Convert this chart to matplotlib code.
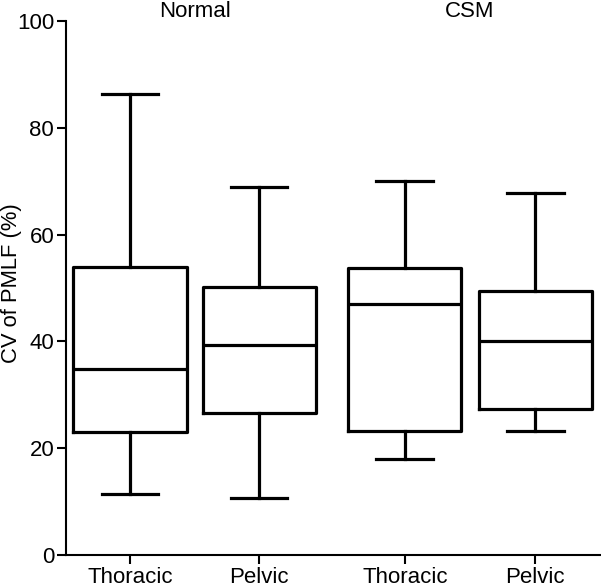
import matplotlib
matplotlib.use('Agg')
from matplotlib import pyplot as plt

plt.rcParams['font.family'] = ['Liberation Sans', 'DejaVu Sans']

labels = ['Thoracic', 'Pelvic', 'Thoracic', 'Pelvic']
groups = ['Normal', 'CSM']
whislo = [11.4, 10.7, 18.0, 23.2]
q1 = [23.0, 26.6, 23.2, 27.3]
med = [34.8, 39.3, 47.0, 40.1]
q3 = [53.9, 50.2, 53.7, 49.4]
whishi = [86.4, 68.9, 70.0, 67.8]

positions = [1.0, 2.0, 3.13, 4.14]

stats = []
for i in range(len(labels)):
    stats.append(dict(whislo=whislo[i], q1=q1[i], med=med[i], q3=q3[i],
                      whishi=whishi[i], label=labels[i]))

fig = plt.figure(figsize=(6.01, 5.87), dpi=100)
ax = fig.add_axes([0.1098, 0.0545, 0.8902, 0.9097])

lw = 2.3
ax.bxp(stats, positions=positions, widths=0.876, showfliers=False,
       boxprops=dict(color='black', linewidth=lw),
       medianprops=dict(color='black', linewidth=lw),
       whiskerprops=dict(color='black', linewidth=lw),
       capprops=dict(color='black', linewidth=lw),
       capwidths=0.44)

ax.set_xlim(0.504, 4.65)
ax.set_ylim(0, 100)
ax.set_yticks([0, 20, 40, 60, 80, 100])
ax.set_ylabel('CV of PMLF (%)', fontsize=15.8)
ax.yaxis.set_label_coords(-0.083, 0.51)
ax.spines['top'].set_visible(False)
ax.spines['right'].set_visible(False)
ax.spines['left'].set_linewidth(1.5)
ax.spines['bottom'].set_linewidth(1.5)
ax.tick_params(axis='both', labelsize=16, width=1.5, length=6.5, pad=2)

for g, x in zip(groups, [(positions[0] + positions[1]) / 2,
                         (positions[2] + positions[3]) / 2]):
    ax.text(x, 100.75, g, ha='center', va='baseline', fontsize=16,
            clip_on=False)

fig.savefig('out.png', dpi=100)
